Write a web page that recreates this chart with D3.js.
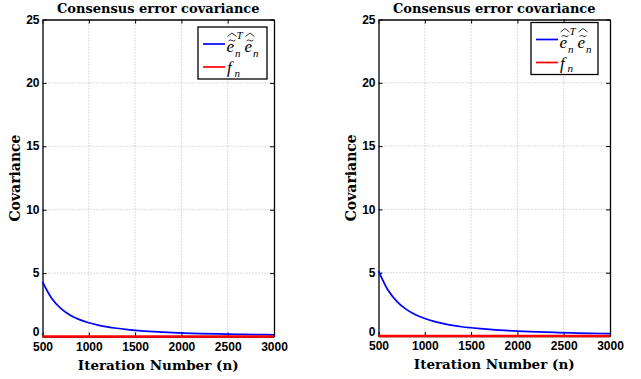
<!DOCTYPE html>
<html><head><meta charset="utf-8">
<script src="https://cdn.jsdelivr.net/npm/d3@7"></script>
<style>body{margin:0;background:#fff}svg{display:block}</style>
</head><body><svg id="c" width="641" height="379"></svg>
<script>
const iterations = [500,600,700,800,900,1000,1100,1200,1300,1400,1500,1600,1700,1800,1900,2000,2200,2400,2600,2800,3000];
const errLeft  = [4.30,3.00,2.20,1.68,1.33,1.08,0.90,0.76,0.65,0.56,0.49,0.43,0.38,0.34,0.31,0.28,0.23,0.20,0.17,0.15,0.13];
const errRight = [5.15,3.65,2.72,2.10,1.68,1.38,1.15,0.98,0.84,0.73,0.65,0.58,0.52,0.47,0.43,0.39,0.33,0.28,0.24,0.21,0.18];
const fnLeft   = [0,0,0,0,0,0,0,0,0,0,0,0,0,0,0,0,0,0,0,0,0];
const fnRight  = [0,0,0,0,0,0,0,0,0,0,0,0,0,0,0,0,0,0,0,0,0];
const xTicks = [500,1000,1500,2000,2500,3000];
const yTicks = [0,5,10,15,20,25];
const titleText = "Consensus error covariance";
const xLabel = "Iteration Number (n)";
const yLabel = "Covariance";

const svg = d3.select("#c");

function panel(x0, x1, y0, y1, errVals, fnVals, leg) {
  const x = d3.scaleLinear().domain([500,3000]).range([x0,x1]);
  const y = d3.scaleLinear().domain([0,25]).range([y1,y0]);
  const g = svg.append("g");
  // grid
  g.selectAll(".gx").data(xTicks.slice(1,-1)).join("line")
    .attr("x1",d=>x(d)).attr("x2",d=>x(d)).attr("y1",y0).attr("y2",y1)
    .attr("stroke","#aaa").attr("stroke-width",0.8).attr("stroke-dasharray","1,2");
  g.selectAll(".gy").data(yTicks.slice(1,-1)).join("line")
    .attr("y1",d=>y(d)).attr("y2",d=>y(d)).attr("x1",x0).attr("x2",x1)
    .attr("stroke","#aaa").attr("stroke-width",0.8).attr("stroke-dasharray","1,2");
  // axes
  const fmt = d3.format("d");
  const axB = g.append("g").attr("transform",`translate(0,${y1})`)
    .call(d3.axisBottom(x).tickValues(xTicks).tickSizeInner(-4).tickSizeOuter(0).tickPadding(6).tickFormat(fmt));
  const axL = g.append("g").attr("transform",`translate(${x0},0)`)
    .call(d3.axisLeft(y).tickValues(yTicks).tickSizeInner(-4).tickSizeOuter(0).tickPadding(3).tickFormat(fmt));
  const axT = g.append("g").attr("transform",`translate(0,${y0})`)
    .call(d3.axisTop(x).tickValues(xTicks).tickSizeInner(-4).tickSizeOuter(0).tickFormat(""));
  const axR = g.append("g").attr("transform",`translate(${x1},0)`)
    .call(d3.axisRight(y).tickValues(yTicks).tickSizeInner(-4).tickSizeOuter(0).tickFormat(""));
  [axB,axL,axT,axR].forEach(a=>{
    a.select(".domain").attr("stroke","#000").attr("stroke-width",1.3);
    a.selectAll(".tick line").attr("stroke","#000");
    a.selectAll("text").attr("fill","#000").attr("font-family","Liberation Sans, Arial, sans-serif")
      .attr("font-weight","bold").attr("font-size",12);
  });
  axL.selectAll("text").attr("dy","0.3em");
  axL.selectAll(".tick").filter(d=>d===0).select("text").attr("dy","-0.05em");
  axB.selectAll("text").attr("dy","0.68em");
  // lines
  const line = d3.line().x((d,i)=>x(iterations[i])).y(d=>y(d)).curve(d3.curveMonotoneX);
  g.append("path").datum(errVals).attr("d",line).attr("fill","none").attr("stroke","#0000ff").attr("stroke-width",1.7);
  g.append("path").datum(fnVals).attr("d",line).attr("fill","none").attr("stroke","#ff0000").attr("stroke-width",2.4);
  // title & labels
  g.append("text").attr("x",(x0+x1)/2).attr("y",y0-7).attr("text-anchor","middle")
    .attr("font-family","DejaVu Serif, serif").attr("font-weight","bold").attr("font-size",13).text(titleText);
  g.append("text").attr("x",(x0+x1)/2).attr("y",y1+33).attr("text-anchor","middle")
    .attr("font-family","DejaVu Serif, serif").attr("font-weight","bold").attr("font-size",13.5).text(xLabel);
  g.append("text").attr("transform",`translate(${x0-23},${(y0+y1)/2}) rotate(-90)`).attr("text-anchor","middle")
    .attr("font-family","DejaVu Serif, serif").attr("font-weight","bold").attr("font-size",14).text(yLabel);
  // legend
  const L = g.append("g").attr("transform",`translate(${leg.x},${leg.y})`);
  L.append("rect").attr("width",leg.w).attr("height",leg.h).attr("fill","#fff").attr("stroke","#000").attr("stroke-width",1.3);
  L.append("line").attr("x1",5).attr("x2",27).attr("y1",17).attr("y2",17).attr("stroke","#0000ff").attr("stroke-width",1.7);
  L.append("line").attr("x1",5).attr("x2",27).attr("y1",40).attr("y2",40).attr("stroke","#ff0000").attr("stroke-width",1.7);
  const ff = "Liberation Serif, serif";
  const it = (x,yy,s,t)=>L.append("text").attr("x",x).attr("y",yy).attr("font-family",ff)
      .attr("font-style","italic").attr("font-size",s).attr("fill","#000").text(t);
  it(28.5,25,17,"e"); it(37,30,11,"n"); it(38.5,12,11,"T");
  it(46.5,25,17,"e"); it(55,30,11,"n");
  it(29,46,17,"f"); it(36.5,49.5,11,"n");
  // tildes and hats
  [29.5,47.5].forEach(a=>{
    L.append("path").attr("d",`M${a+1},14 q1.5,-2 3.5,-0.5 q2,1.5 3.5,-0.5`).attr("fill","none").attr("stroke","#000").attr("stroke-width",0.8);
    L.append("path").attr("d",`M${a},9.5 L${a+4.5},6 L${a+9},9.5`).attr("fill","none").attr("stroke","#000").attr("stroke-width",0.8);
  });
}

panel(42.5, 274, 19.5, 336.5, errLeft, fnLeft, {x:198, y:27, w:69, h:52});
panel(378.5, 610, 19.5, 336, errRight, fnRight, {x:531, y:22.5, w:67, h:52});
</script></body></html>
